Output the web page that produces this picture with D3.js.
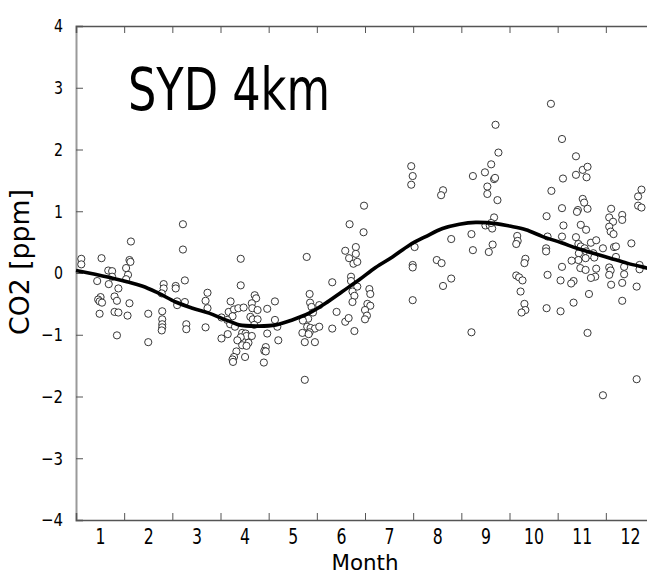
<!DOCTYPE html>
<html>
<head>
<meta charset="utf-8">
<script src="https://cdn.jsdelivr.net/npm/d3@7"></script>
<style>
  body { margin: 0; background: #fff; }
  svg { display: block; overflow: hidden; }
  text { font-family: "DejaVu Sans", sans-serif; font-stretch: condensed; fill: #000; }
</style>
</head>
<body>
<div id="chart"></div>
<script>
// ////////////////////////////////////////////////////////////////////////////
// DATA - monthly CO2 anomalies, SYD 4km
// ////////////////////////////////////////////////////////////////////////////
const monthLabels = [1, 2, 3, 4, 5, 6, 7, 8, 9, 10, 11, 12];
const monthEdges = [1.5, 2.5, 3.5, 4.5, 5.5, 6.5, 7.5, 8.5, 9.5, 10.5, 11.5, 12.5];
const ppmTicks = [-4, -3, -2, -1, 0, 1, 2, 3, 4];

const obsMonth = [
  0.61, 0.61, 1.03, 1.64, 1.61, 1.63, 1.54, 1.17, 1.25, 1.58, 1.25, 1.54, 0.94, 1.18, 1.38,
  2.32, 2.32, 2.28, 2.57, 2.57, 1.01, 0.96, 0.99, 1.04, 1.30, 1.35, 1.61, 0.99, 1.30, 1.38,
  1.57, 2.00, 2.29, 2.29, 2.29, 2.29, 2.28, 1.35, 2.00,
  2.72, 2.72, 3.92, 2.76, 3.92, 3.23, 3.19, 3.23, 2.60, 2.60, 2.76, 2.79, 2.79, 3.19, 3.52,
  3.71, 3.67, 3.78, 3.87, 3.98, 4.21, 4.24, 4.15, 4.16, 4.27, 4.47, 3.75, 3.64, 3.70, 3.80,
  4.12, 4.17, 4.27, 4.20, 3.95, 4.02, 4.04, 4.15, 3.92, 3.85, 4.08, 3.95, 4.04, 3.65, 3.52,
  4.47, 3.83, 3.78, 3.75, 3.76, 4.01, 4.44, 4.41, 4.44, 4.40, 4.63, 4.63,
  6.48, 6.18, 6.47, 6.09, 6.17, 6.31, 6.31, 6.26, 6.34, 5.29, 5.82, 6.21, 6.21, 6.34, 6.24,
  6.28, 6.24, 6.59, 6.61, 6.55, 6.61, 6.50, 6.54, 6.50, 5.35, 5.36, 5.39, 5.55, 5.42, 5.91,
  5.32, 5.21, 5.30, 5.37, 5.46, 5.55, 5.20, 5.35, 5.33, 6.09, 6.16, 5.82, 6.28, 5.25, 5.46,
  4.68, 4.70, 5.25,
  7.46, 7.49, 7.46, 8.12, 8.08, 8.74, 8.29, 7.53, 8.71, 8.74, 7.49, 7.49, 7.99, 8.09, 8.29,
  8.12, 7.49, 8.71,
  8.99, 9.12, 9.27, 9.18, 9.20, 9.04, 9.04, 9.25, 9.21, 9.07, 9.15, 9.18, 9.00, 9.09, 9.14,
  9.12, 10.36, 10.59, 10.61, 10.37, 10.59, 10.27, 10.62, 10.59, 10.29, 9.66, 9.67, 9.64, 10.26,
  10.26, 9.83, 9.81, 10.59, 9.64, 9.70, 9.77, 10.29, 10.56, 9.73, 9.81, 9.83, 9.75, 10.27, 10.56,
  10.88, 10.88, 11.02, 11.12, 11.10, 11.02, 11.05, 11.12, 10.92, 10.90, 11.61, 11.57, 11.65,
  11.57, 11.60, 11.66, 11.84, 11.84, 12.24, 12.17, 12.17, 12.24, 10.98, 11.09, 10.88, 10.93,
  10.98, 11.06, 11.19, 11.30, 11.09, 11.24, 11.17, 11.26, 10.94, 10.93, 10.79, 11.08, 11.44,
  11.67, 11.71, 12.03, 11.71, 12.20, 12.20, 11.88, 11.88, 11.84, 10.97, 11.08, 11.30, 11.28,
  11.19, 11.57, 11.60, 11.57, 10.83, 10.78, 11.61, 12.14, 11.15, 10.83, 11.84, 11.12, 12.14, 11.44
];
const obsPpm = [
  0.23, 0.14, 0.24, 0.51, 0.21, 0.18, 0.08, 0.04, 0.03, -0.03, -0.06, -0.10, -0.13, -0.18, -0.25,
  -0.18, -0.25, -0.33, -0.21, -0.25, -0.39, -0.43, -0.46, -0.48, -0.38, -0.45, -0.49, -0.66, -0.63, -0.64,
  -0.69, -0.66, -0.62, -0.75, -0.83, -0.88, -0.93, -1.01, -1.12,
  0.79, 0.38, 0.23, -0.12, -0.20, -0.32, -0.45, -0.57, -0.46, -0.52, -0.47, -0.83, -0.91, -0.88, -0.72,
  -0.46, -0.63, -0.59, -0.57, -0.56, -0.36, -0.41, -0.49, -0.57, -0.60, -0.58, -0.70, -0.76, -0.83, -0.87,
  -0.71, -0.75, -0.75, -0.84, -0.97, -0.98, -1.02, -1.02, -1.04, -1.09, -1.13, -1.17, -1.18, -0.99, -1.06,
  -0.98, -1.27, -1.36, -1.40, -1.44, -1.36, -1.20, -1.26, -1.27, -1.45, -0.46, -0.76,
  1.09, 0.79, 0.66, 0.36, 0.24, 0.42, 0.31, 0.15, 0.18, 0.26, -0.15, -0.06, -0.13, -0.22, -0.30,
  -0.37, -0.47, -0.26, -0.34, -0.50, -0.53, -0.60, -0.69, -0.75, -0.34, -0.48, -0.55, -0.52, -0.64, -0.63,
  -0.74, -0.77, -0.87, -0.89, -0.90, -0.87, -0.97, -0.96, -0.99, -0.79, -0.73, -0.90, -0.94, -1.12, -1.12,
  -0.87, -1.09, -1.73,
  1.73, 1.57, 1.43, 1.34, 1.26, 1.57, 0.55, 0.42, 0.63, 0.37, 0.13, 0.09, 0.21, 0.16, -0.09,
  -0.21, -0.44, -0.96,
  1.63, 1.76, 1.95, 1.52, 1.54, 1.40, 1.28, 1.18, 2.40, 0.34, 0.46, 0.90, 0.77, 0.77, 0.72,
  0.81, 2.74, 2.17, 1.53, 1.33, 1.05, 0.92, 0.77, 0.59, 0.59, 0.60, 0.52, 0.47, 0.40,
  0.35, 0.23, 0.16, 0.10, -0.04, -0.07, -0.12, -0.03, -0.12, -0.30, -0.50, -0.60, -0.64, -0.57, -0.62,
  1.89, 1.59, 1.67, 1.72, 1.55, 1.20, 1.14, 1.04, 1.02, 0.99, 1.04, 0.90, 0.83,
  0.75, 0.67, 0.63, 0.94, 0.86, 1.35, 1.24, 1.09, 1.06, 0.78, 0.70, 0.58, 0.47,
  0.43, 0.40, 0.49, 0.53, 0.35, 0.32, 0.29, 0.25, 0.32, 0.21, 0.20, 0.24, 0.40,
  0.42, 0.43, 0.48, 0.26, 0.13, 0.06, 0.10, -0.02, -0.16, 0.08, 0.05, 0.07, -0.06,
  -0.08, 0.09, 0.04, -0.03, -0.13, -0.17, -0.19, -0.22, -0.34, -0.48, -0.45, -0.97, -1.72, -1.98
];

// smooth seasonal fit
const fitMonth = [0.5, 1.18, 1.87, 2.22, 2.57, 2.92, 3.26, 3.54, 3.75, 3.88, 4.30, 4.65, 4.99, 5.34,
  5.68, 6.03, 6.38, 6.72, 7.07, 7.42, 7.76, 8.11, 8.46, 8.80, 9.22, 9.50, 9.84, 10.19, 10.58,
  10.90, 11.24, 11.59, 11.94, 12.35, 12.5];
const fitPpm = [0.04, -0.07, -0.21, -0.33, -0.47, -0.57, -0.65, -0.74, -0.80, -0.84, -0.86, -0.84,
  -0.76, -0.65, -0.49, -0.30, -0.11, 0.09, 0.26, 0.45, 0.59, 0.72, 0.79, 0.82, 0.80, 0.76, 0.70,
  0.59, 0.49, 0.40, 0.32, 0.24, 0.16, 0.08, 0.05];

// ////////////////////////////////////////////////////////////////////////////
// SETUP
// ////////////////////////////////////////////////////////////////////////////
const svg = d3.select('#chart').append('svg')
  .attr('width', 647)
  .attr('height', 575);

const margin = { top: 26, right: 0, bottom: 55, left: 76 };
const width = 578; // runs past the right edge, as in the original
const height = 575 - margin.top - margin.bottom;

const x = d3.scaleLinear().domain([0.5, 12.5]).range([0, width]);
const y = d3.scaleLinear().domain([-4, 4]).range([height, 0]);

const g = svg.append('g')
  .attr('transform', `translate(${margin.left}, ${margin.top})`);

// ////////////////////////////////////////////////////////////////////////////
// AXES
// ////////////////////////////////////////////////////////////////////////////
const fmt = d => (d < 0 ? `\u2212${-d}` : `${d}`);

// left
const yAxis = g.append('g')
  .call(d3.axisLeft(y).tickValues(ppmTicks).tickSize(-7).tickPadding(13).tickFormat(fmt));
yAxis.select('.domain').attr('stroke', '#9a9a9a').attr('stroke-width', 2);
yAxis.selectAll('.tick line').attr('stroke', '#555');
yAxis.selectAll('.tick text')
  .style('font-size', '18px')
  .attr('textLength', d => (d < 0 ? 22 : 9))
  .attr('lengthAdjust', 'spacingAndGlyphs');

// bottom: month boundary ticks
const xEdges = g.append('g')
  .attr('transform', `translate(0, ${height})`)
  .call(d3.axisBottom(x).tickValues(monthEdges).tickSize(-7).tickFormat(''));
xEdges.select('.domain').attr('stroke', '#555').attr('stroke-width', 1.5);
xEdges.selectAll('.tick line').attr('stroke', '#555');

// bottom: month labels
const xLabels = g.append('g')
  .attr('transform', `translate(0, ${height})`)
  .call(d3.axisBottom(x).tickValues(monthLabels).tickSize(0).tickPadding(9));
xLabels.select('.domain').remove();
xLabels.selectAll('.tick text')
  .style('font-size', '21px')
  .attr('textLength', d => `${d}`.length * 10)
  .attr('lengthAdjust', 'spacingAndGlyphs');

// top
const xTop = g.append('g')
  .call(d3.axisTop(x).tickValues(monthEdges).tickSize(-7).tickFormat(''));
xTop.select('.domain').attr('stroke', '#555').attr('stroke-width', 1.5);
xTop.selectAll('.tick line').attr('stroke', '#555');

// titles
svg.append('text')
  .attr('x', 21)
  .attr('y', 262)
  .attr('transform', 'rotate(-90, 21, 262)')
  .attr('text-anchor', 'middle')
  .attr('dominant-baseline', 'middle')
  .style('font-size', '26px')
  .attr('textLength', 146)
  .attr('lengthAdjust', 'spacingAndGlyphs')
  .text('CO2 [ppm]');

svg.append('text')
  .attr('x', 365)
  .attr('y', 570)
  .attr('text-anchor', 'middle')
  .style('font-size', '21px')
  .attr('textLength', 67)
  .attr('lengthAdjust', 'spacingAndGlyphs')
  .text('Month');

svg.append('text')
  .attr('x', 128)
  .attr('y', 110)
  .style('font-size', '59px')
  .attr('textLength', 202)
  .attr('lengthAdjust', 'spacingAndGlyphs')
  .text('SYD 4km');

// ////////////////////////////////////////////////////////////////////////////
// MARKS
// ////////////////////////////////////////////////////////////////////////////
const points = obsMonth.map((m, i) => ({ month: m, ppm: obsPpm[i] }));

g.selectAll('.obs')
  .data(points)
  .enter().append('circle')
    .attr('class', 'obs')
    .attr('cx', d => x(d.month))
    .attr('cy', d => y(d.ppm))
    .attr('r', 3.6)
    .attr('fill', '#fff')
    .attr('stroke', '#222')
    .attr('stroke-width', 0.9);

const fit = fitMonth.map((m, i) => ({ month: m, ppm: fitPpm[i] }));

g.append('path')
  .datum(fit)
  .attr('fill', 'none')
  .attr('stroke', '#000')
  .attr('stroke-width', 3.6)
  .attr('d', d3.line()
    .x(d => x(d.month))
    .y(d => y(d.ppm))
    .curve(d3.curveCatmullRom.alpha(0.5)));
</script>
</body>
</html>
